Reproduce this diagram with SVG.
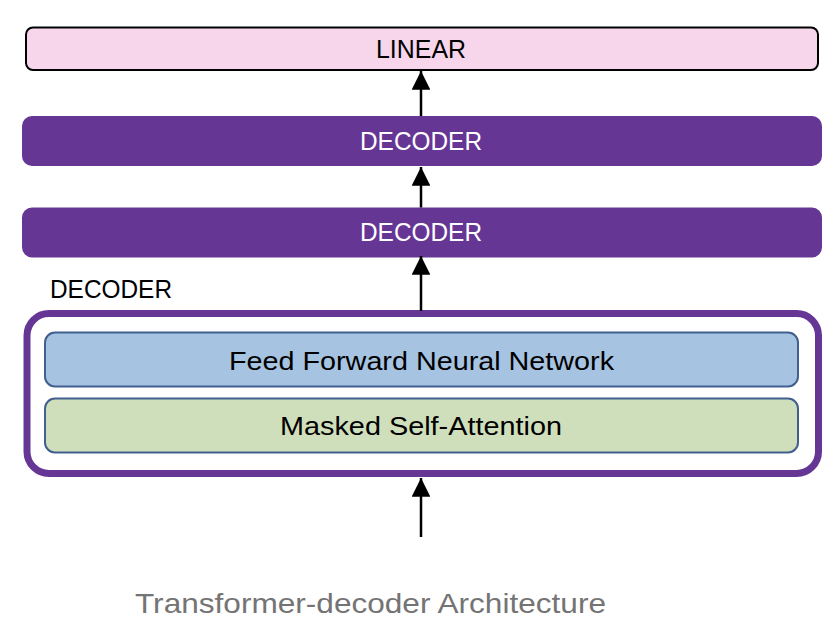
<svg xmlns="http://www.w3.org/2000/svg" width="838" height="632" viewBox="0 0 838 632">
<style>
.t{font-family:"Liberation Sans",Arial,sans-serif;font-size:26px;text-anchor:middle}
.w{fill:#ffffff}
.k{fill:#000000}
.dec{fill:#663695}
.edge{stroke:#000;stroke-width:2.5;fill:none}
.inner{stroke:#41608f;stroke-width:2}
</style>
<defs>
<marker id="ah" viewBox="0 0 10 10" refX="10" refY="5" markerWidth="7.5" markerHeight="7.5" markerUnits="strokeWidth" orient="auto">
<path d="M0,0 L10,5 L0,10 z" fill="#000"/>
</marker>
</defs>
<rect width="838" height="632" fill="#ffffff"/>
<g id="linear">
<rect x="26" y="27.5" width="792" height="42.5" rx="7" fill="#f7d6ec" stroke="#000" stroke-width="2"/>
<text class="t k" x="421" y="58" textLength="90" lengthAdjust="spacingAndGlyphs">LINEAR</text>
</g>
<g id="decoder1">
<rect class="dec" x="22" y="116" width="800" height="50" rx="10"/>
<text class="t w" x="421" y="150" textLength="122" lengthAdjust="spacingAndGlyphs">DECODER</text>
</g>
<g id="decoder2">
<rect class="dec" x="22" y="207.5" width="800" height="50" rx="10"/>
<text class="t w" x="421" y="240.5" textLength="122" lengthAdjust="spacingAndGlyphs">DECODER</text>
</g>
<g id="decoder-detail">
<text class="t k" x="50" y="297.5" style="text-anchor:start" textLength="122" lengthAdjust="spacingAndGlyphs">DECODER</text>
<rect x="27" y="313.5" width="791.5" height="160" rx="22" fill="#ffffff" stroke="#663695" stroke-width="7"/>
<g id="ffnn">
<rect class="inner" x="45" y="332.5" width="753" height="54" rx="10" fill="#a6c3e1"/>
<text class="t k" x="421.5" y="369.5" textLength="385" lengthAdjust="spacingAndGlyphs">Feed Forward Neural Network</text>
</g>
<g id="masked">
<rect class="inner" x="45" y="398.5" width="753" height="54" rx="10" fill="#cfdfbb"/>
<text class="t k" x="421" y="435" textLength="282" lengthAdjust="spacingAndGlyphs">Masked Self-Attention</text>
</g>
</g>
<g id="connectors">
<line class="edge" x1="421" y1="116" x2="421" y2="71" marker-end="url(#ah)"/>
<line class="edge" x1="421" y1="207.5" x2="421" y2="167" marker-end="url(#ah)"/>
<line class="edge" x1="421" y1="311" x2="421" y2="256" marker-end="url(#ah)"/>
<line class="edge" x1="421" y1="537" x2="421" y2="478" marker-end="url(#ah)"/>
</g>
<text x="135" y="612.5" font-family="'Liberation Sans',Arial,sans-serif" font-size="28" fill="#747474" textLength="471" lengthAdjust="spacingAndGlyphs">Transformer-decoder Architecture</text>
</svg>
